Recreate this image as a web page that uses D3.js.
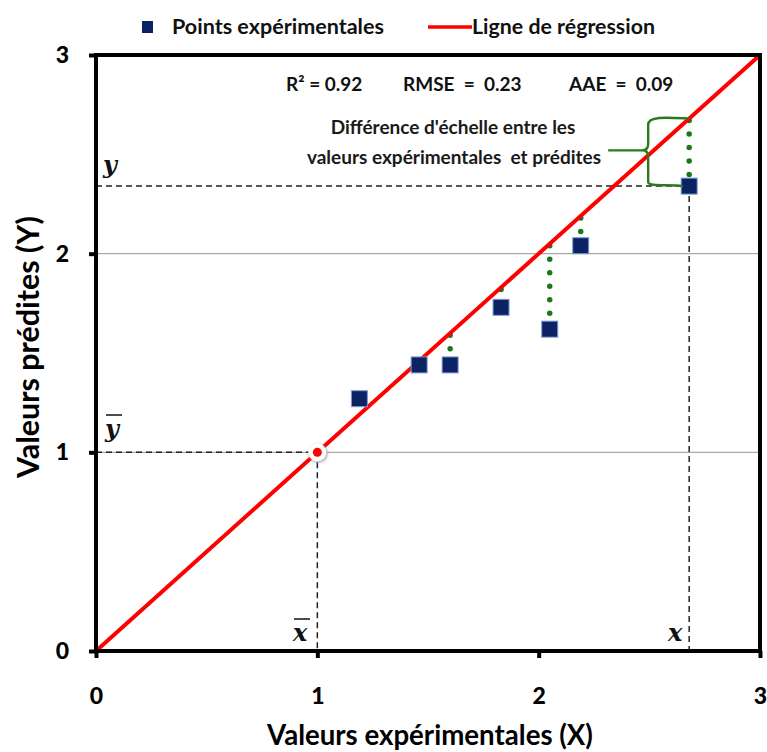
<!DOCTYPE html>
<html><head><meta charset="utf-8">
<script src="https://cdn.jsdelivr.net/npm/d3@7"></script>
<style>body{margin:0;background:#fff}</style>
</head><body>
<svg id="c" width="767" height="752"></svg>
<script>
const expX = [1.19, 1.46, 1.60, 1.83, 2.05, 2.19, 2.68];
const predY = [1.27, 1.44, 1.44, 1.73, 1.62, 2.04, 2.34];
const xTicks = [0, 1, 2, 3];
const yTicks = [0, 1, 2, 3];
const gridY = [1, 2];
const meanX = 1, meanY = 1;
const statsLabels = ["R² = 0.92", "RMSE  =  0.23", "AAE  =  0.09"];
const legendLabels = ["Points expérimentales", "Ligne de régression"];
const annotLines = ["Différence d'échelle entre les", "valeurs expérimentales  et prédites"];

const FONT = "Lato,'Open Sans',sans-serif";
const svg = d3.select("#c");
const L = 96, R = 760, T = 55, B = 651;
const x = d3.scaleLinear().domain([0, 3]).range([L, R]);
const y = d3.scaleLinear().domain([0, 3]).range([B, T]);

// fit a text's font size to a target width
function fit(sel, w) {
  sel.each(function () {
    const fs = parseFloat(this.getAttribute("font-size"));
    const len = this.getComputedTextLength();
    if (len > 0) this.setAttribute("font-size", (fs * w / len).toFixed(2));
  });
  return sel;
}

// grid
svg.selectAll(".g").data(gridY).join("line")
  .attr("x1", L).attr("x2", R).attr("y1", d => y(d)).attr("y2", d => y(d))
  .attr("stroke", "#a8a8a8").attr("stroke-width", 1.3);

// dashed reference lines
const iLast = expX.length - 1;
const dash = [
  [0, meanY, meanX, meanY], [meanX, meanY, meanX, 0],
  [0, predY[iLast], expX[iLast], predY[iLast]], [expX[iLast], predY[iLast], expX[iLast], 0]
];
svg.selectAll(".d").data(dash).join("line")
  .attr("x1", d => x(d[0])).attr("y1", d => y(d[1])).attr("x2", d => x(d[2])).attr("y2", d => y(d[3]))
  .attr("stroke", "#222").attr("stroke-width", 1.5).attr("stroke-dasharray", "6,4");

// green dotted residuals (only where prediction is below the line)
const pts = expX.map((v, i) => [v, predY[i]]);
svg.selectAll(".r").data(pts.filter(d => d[0] - d[1] > 0.05)).join("line")
  .attr("x1", d => x(d[0])).attr("x2", d => x(d[0]))
  .attr("y1", d => y(d[0]) + 2).attr("y2", d => y(d[1]) - 8)
  .attr("stroke", "#1a781a").attr("stroke-width", 5.5).attr("stroke-linecap", "round")
  .attr("stroke-dasharray", "0,13.5");

// regression line
svg.append("line").attr("x1", x(0)).attr("y1", y(0)).attr("x2", x(3)).attr("y2", y(3))
  .attr("stroke", "#ff0000").attr("stroke-width", 4);

// points
svg.selectAll(".p").data(pts).join("rect")
  .attr("x", d => x(d[0]) - 8).attr("y", d => y(d[1]) - 8).attr("width", 16).attr("height", 16)
  .attr("fill", "#0b2265").attr("stroke", "#7f9bd0").attr("stroke-width", 1);

// mean dot
const defs = svg.append("defs");
const f = defs.append("filter").attr("id", "sh").attr("x", "-50%").attr("y", "-50%").attr("width", "200%").attr("height", "200%");
f.append("feDropShadow").attr("dx", 1).attr("dy", 1).attr("stdDeviation", 1.5).attr("flood-color", "#999");
svg.append("circle").attr("cx", x(meanX)).attr("cy", y(meanY)).attr("r", 9).attr("fill", "#fff").attr("filter", "url(#sh)");
svg.append("circle").attr("cx", x(meanX)).attr("cy", y(meanY)).attr("r", 4.5).attr("fill", "#ff0000");

// brace
const bx = x(expX[iLast]);
const yTop = y(expX[iLast]), yBot = y(predY[iLast]), yMid = (yTop + yBot) / 2 - 2;
const bxl = bx - 41;
const brace = `M${bx},${yTop} C${bx-20},${yTop-1} ${bxl},${yTop-3} ${bxl},${yTop+6} L${bxl},${yMid-6} C${bxl},${yMid} ${bxl-4},${yMid} ${bxl-6},${yMid} L${bx-81},${yMid} M${bxl-6},${yMid} C${bxl-4},${yMid} ${bxl},${yMid} ${bxl},${yMid+6} L${bxl},${yBot-4} C${bxl},${yBot+1} ${bx-20},${yBot-2} ${bx-6},${yBot}`;
svg.append("path").attr("d", brace).attr("fill", "none").attr("stroke", "#2a7a1e").attr("stroke-width", 2.4);

// frame
svg.append("rect").attr("x", L).attr("y", T).attr("width", R - L).attr("height", B - T)
  .attr("fill", "none").attr("stroke", "#000").attr("stroke-width", 4);

// axes (ticks outward)
const ax = svg.append("g").attr("transform", `translate(0,${B})`)
  .call(d3.axisBottom(x).tickValues(xTicks).tickFormat(d3.format("d")).tickSize(7).tickPadding(30));
const ay = svg.append("g").attr("transform", `translate(${L},0)`)
  .call(d3.axisLeft(y).tickValues(yTicks).tickFormat(d3.format("d")).tickSize(7).tickPadding(20));
[ax, ay].forEach(a => {
  a.select(".domain").remove();
  a.selectAll(".tick line").attr("stroke", "#000").attr("stroke-width", 4);
  a.selectAll(".tick text").attr("font-family", FONT).attr("font-weight", 900)
    .attr("font-size", 23).attr("fill", "#000");
});

// axis titles
fit(svg.append("text").attr("x", 430).attr("y", 745).attr("text-anchor", "middle")
  .attr("font-family", FONT).attr("font-weight", "bold").attr("font-size", 24).text("Valeurs expérimentales (X)"), 326);
fit(svg.append("text").attr("transform", "translate(39,347) rotate(-90)").attr("text-anchor", "middle")
  .attr("font-family", FONT).attr("font-weight", "bold").attr("font-size", 24).text("Valeurs prédites (Y)"), 262);

// legend
svg.append("rect").attr("x", 142).attr("y", 21).attr("width", 11).attr("height", 12).attr("fill", "#0b2265");
fit(svg.append("text").attr("x", 172).attr("y", 34).attr("font-family", FONT).attr("font-weight", "bold")
  .attr("font-size", 20).attr("fill", "#111").text(legendLabels[0]), 212);
svg.append("line").attr("x1", 428).attr("x2", 472).attr("y1", 27).attr("y2", 27).attr("stroke", "#ff0000").attr("stroke-width", 3.5);
fit(svg.append("text").attr("x", 472).attr("y", 34).attr("font-family", FONT).attr("font-weight", "bold")
  .attr("font-size", 20).attr("fill", "#111").text(legendLabels[1]), 183);

// stats
const sx = [286, 403, 569];
svg.selectAll(".s").data(statsLabels).join("text")
  .attr("x", (d, i) => sx[i]).attr("y", 91).attr("font-family", FONT).attr("font-weight", "bold")
  .attr("font-size", 19).attr("fill", "#111").style("white-space", "pre").text(d => d);

// annotation
svg.selectAll(".a").data(annotLines).join("text")
  .attr("x", (d, i) => i ? 454 : 453).attr("y", (d, i) => i ? 164 : 134).attr("text-anchor", "middle")
  .attr("font-family", FONT).attr("font-weight", "bold").attr("font-size", 19).attr("fill", "#1a1a1a")
  .style("white-space", "pre").text(d => d);

// math labels
const mf = "'DejaVu Serif','Liberation Serif',serif";
const ml = [["y", 103, 173, false], ["y", 105, 437, true], ["x", 293, 641, true], ["x", 668, 641, false]];
ml.forEach(([t, px, py, bar]) => {
  svg.append("text").attr("x", px).attr("y", py).attr("font-family", mf).attr("font-style", "italic")
    .attr("font-weight", "bold").attr("font-size", 24).attr("fill", "#111").text(t);
  if (bar) svg.append("line").attr("x1", px + 1).attr("x2", px + 17).attr("y1", py - 22).attr("y2", py - 22)
    .attr("stroke", "#111").attr("stroke-width", 1.5);
});
</script>
</body></html>
